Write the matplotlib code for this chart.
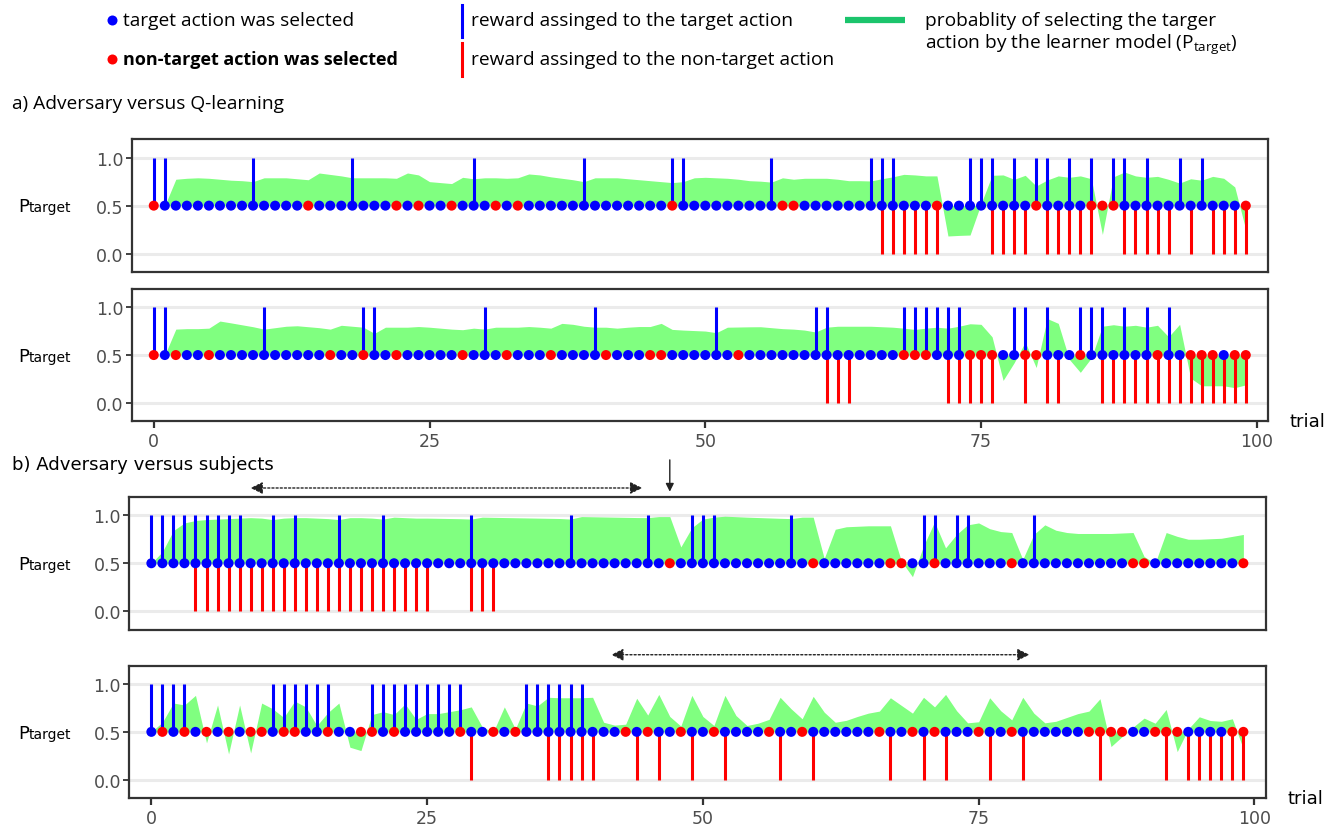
import matplotlib
matplotlib.use('Agg')
import matplotlib.pyplot as plt
import numpy as np
from matplotlib.transforms import blended_transform_factory

W, H = 1338, 828
trials = np.arange(100)

# ---- a) adversary vs Q-learning, run 1 ----
q1_nontarget_sel = [0, 14, 22, 24, 27, 31, 33, 47, 57, 58, 71, 80, 85, 86, 87, 99]
q1_rew_target = [0, 1, 9, 18, 29, 39, 47, 48, 56, 65, 66, 67, 74, 75, 76, 78, 80, 81,
                 83, 85, 87, 88, 90, 93, 95]
q1_rew_nontarget = [66, 67, 68, 69, 70, 71, 76, 77, 78, 79, 81, 82, 83, 84, 85, 88, 89,
                    90, 91, 92, 94, 96, 97, 98, 99]
q1_p = [0.5, 0.5, 0.775, 0.785, 0.79, 0.785, 0.775, 0.765, 0.76, 0.75,
        0.79, 0.79, 0.79, 0.78, 0.77, 0.84, 0.825, 0.81, 0.79, 0.79,
        0.79, 0.79, 0.785, 0.84, 0.82, 0.75, 0.74, 0.73, 0.795, 0.78,
        0.79, 0.79, 0.785, 0.79, 0.83, 0.82, 0.80, 0.785, 0.77, 0.75,
        0.79, 0.79, 0.79, 0.78, 0.77, 0.76, 0.75, 0.74, 0.75, 0.79,
        0.795, 0.79, 0.785, 0.775, 0.76, 0.755, 0.745, 0.79, 0.775, 0.785,
        0.785, 0.785, 0.775, 0.76, 0.76, 0.757, 0.78, 0.80, 0.826, 0.82,
        0.81, 0.81, 0.184, 0.19, 0.194, 0.52, 0.816, 0.82, 0.774, 0.816,
        0.705, 0.767, 0.81, 0.795, 0.81, 0.78, 0.20, 0.80, 0.85, 0.81,
        0.795, 0.805, 0.774, 0.735, 0.78, 0.765, 0.805, 0.785, 0.695, 0.25]

# ---- a) adversary vs Q-learning, run 2 ----
q2_nontarget_sel = [0, 2, 5, 16, 19, 22, 28, 32, 36, 41, 45, 46, 53, 68, 69, 70, 74, 75,
                    76, 79, 80, 84, 91, 94, 95, 96, 98, 99]
q2_rew_target = [0, 1, 10, 19, 20, 30, 40, 51, 60, 61, 68, 69, 70, 71, 72, 73, 78, 79,
                 81, 84, 85, 86, 88, 90, 92]
q2_rew_nontarget = [61, 62, 63, 72, 73, 74, 75, 76, 79, 81, 82, 86, 87, 88, 89, 90, 91,
                    92, 93, 94, 95, 96, 97, 98, 99]
q2_p = [0.5, 0.5, 0.77, 0.775, 0.775, 0.78, 0.854, 0.835, 0.815, 0.795,
        0.77, 0.785, 0.80, 0.805, 0.795, 0.785, 0.77, 0.81, 0.80, 0.79,
        0.726, 0.79, 0.79, 0.79, 0.797, 0.79, 0.78, 0.77, 0.764, 0.78,
        0.77, 0.79, 0.79, 0.79, 0.797, 0.79, 0.78, 0.83, 0.82, 0.80,
        0.79, 0.79, 0.78, 0.79, 0.797, 0.797, 0.83, 0.767, 0.76, 0.755,
        0.75, 0.733, 0.79, 0.792, 0.794, 0.795, 0.785, 0.775, 0.77, 0.76,
        0.74, 0.79, 0.80, 0.80, 0.80, 0.80, 0.795, 0.79, 0.78, 0.767,
        0.78, 0.79, 0.78, 0.80, 0.826, 0.82, 0.69, 0.236, 0.42, 0.635,
        0.37, 0.88, 0.83, 0.455, 0.32, 0.47, 0.80, 0.816, 0.80, 0.81,
        0.79, 0.81, 0.69, 0.82, 0.26, 0.18, 0.18, 0.18, 0.16, 0.19]

# ---- b) adversary vs subjects, subject 1 ----
s1_nontarget_sel = [47, 60, 67, 68, 71, 78, 89, 90, 99]
s1_rew_target = [0, 1, 2, 3, 4, 5, 6, 7, 8, 11, 13, 17, 21, 29, 38, 45, 49, 50, 51, 58,
                 70, 71, 73, 74, 80]
s1_rew_nontarget = [4, 5, 6, 7, 8, 9, 10, 11, 12, 13, 14, 15, 16, 17, 18, 19, 20, 21,
                    22, 23, 24, 25, 29, 30, 31]
s1_p = [0.5, 0.62, 0.84, 0.92, 0.945, 0.955, 0.96, 0.965, 0.97, 0.975,
        0.97, 0.955, 0.97, 0.975, 0.975, 0.97, 0.965, 0.955, 0.975, 0.975,
        0.97, 0.96, 0.98, 0.975, 0.97, 0.97, 0.968, 0.966, 0.964, 0.96,
        0.98, 0.978, 0.976, 0.974, 0.972, 0.97, 0.968, 0.966, 0.96, 0.986,
        0.984, 0.982, 0.98, 0.978, 0.976, 0.975, 0.986, 0.986, 0.67, 0.87,
        0.96, 0.98, 0.99, 0.985, 0.98, 0.976, 0.972, 0.968, 0.965, 0.98,
        0.98, 0.55, 0.854, 0.88, 0.885, 0.89, 0.89, 0.89, 0.52, 0.36,
        0.68, 0.93, 0.66, 0.80, 0.90, 0.92, 0.86, 0.83, 0.82, 0.54,
        0.80, 0.90, 0.844, 0.82, 0.81, 0.81, 0.81, 0.81, 0.815, 0.82,
        0.57, 0.5, 0.82, 0.78, 0.75, 0.75, 0.755, 0.76, 0.78, 0.80]

# ---- b) adversary vs subjects, subject 2 ----
s2_nontarget_sel = [1, 3, 5, 7, 9, 10, 12, 13, 16, 19, 20, 22, 28, 31, 33, 43, 45, 48,
                    51, 56, 59, 66, 69, 71, 75, 78, 85, 86, 87, 88, 91, 92, 93, 98, 99]
s2_rew_target = [0, 1, 2, 3, 11, 12, 13, 14, 15, 16, 20, 21, 22, 23, 24, 25, 26, 27, 28,
                 34, 35, 36, 37, 38, 39]
s2_rew_nontarget = [29, 36, 37, 38, 39, 40, 44, 46, 49, 52, 57, 60, 67, 70, 72, 76, 79,
                    86, 92, 94, 95, 96, 97, 98, 99]
s2_p = [0.5, 0.6, 0.80, 0.78, 0.88, 0.385, 0.78, 0.27, 0.78, 0.28,
        0.80, 0.74, 0.65, 0.82, 0.76, 0.565, 0.70, 0.80, 0.34, 0.305,
        0.68, 0.71, 0.68, 0.79, 0.63, 0.69, 0.69, 0.71, 0.73, 0.76,
        0.55, 0.5, 0.76, 0.53, 0.80, 0.77, 0.86, 0.855, 0.855, 0.855,
        0.86, 0.60, 0.57, 0.58, 0.85, 0.675, 0.89, 0.66, 0.56, 0.88,
        0.66, 0.566, 0.88, 0.67, 0.566, 0.59, 0.63, 0.86, 0.74, 0.636,
        0.87, 0.705, 0.60, 0.62, 0.66, 0.695, 0.716, 0.855, 0.775, 0.695,
        0.86, 0.76, 0.89, 0.72, 0.594, 0.605, 0.855, 0.72, 0.625, 0.86,
        0.695, 0.594, 0.61, 0.65, 0.69, 0.716, 0.845, 0.347, 0.45, 0.55,
        0.643, 0.59, 0.733, 0.294, 0.53, 0.657, 0.618, 0.61, 0.636, 0.32]

BLUE = '#0000FF'
RED = '#FF0000'
FILL = '#80FF80'
KEY_GREEN = '#1BC46C'
TXT_FONT = 'Open Sans'
LEG_SIZE = 13.8


def rect(left, top, width, height):
    return [left / W, 1 - (top + height) / H, width / W, height / H]


def draw_panel(ax, nontarget_sel, rew_t, rew_nt, p, show_x):
    ax.fill_between(trials, 0.5, p, color=FILL, lw=0, zorder=1)
    ax.vlines(rew_t, 0.5, 1.0, color=BLUE, lw=2.2, zorder=2)
    ax.vlines(rew_nt, 0.0, 0.5, color=RED, lw=2.2, zorder=2)
    colors = np.where(np.isin(trials, nontarget_sel), RED, BLUE)
    ax.scatter(trials, np.full(100, 0.5), s=52, c=colors, lw=0, zorder=3)

    ax.set_xlim(-2, 101.05)
    ax.set_ylim(-0.19, 1.19)
    ax.set_yticks([0, 0.5, 1.0])
    ax.set_yticklabels(['0.0', '0.5', '1.0'])
    ax.grid(axis='y', color='#EBEBEB', lw=2.2)
    ax.set_axisbelow(True)
    for sp in ax.spines.values():
        sp.set_color('#333333')
        sp.set_linewidth(1.6)
    ax.tick_params(axis='y', length=4, width=1.3, color='#333333',
                   labelcolor='#4D4D4D', labelsize=12.5, pad=2)
    if show_x:
        ax.set_xticks([0, 25, 50, 75, 100])
        ax.tick_params(axis='x', length=5, width=1.6, color='#333333',
                       labelcolor='#4D4D4D', labelsize=12.5, pad=3)
        ax.text(1.019, 0.0, 'trial', transform=ax.transAxes, ha='left',
                va='center', fontsize=13, family='DejaVu Sans')
    else:
        ax.set_xticks([])

    # y label "P target" with the small word on the same baseline
    tr = blended_transform_factory(fig.transFigure, ax.transData)
    ax.text(18 / W, 0.44, 'P', transform=tr, fontsize=13, ha='left',
            va='baseline', family='DejaVu Sans')
    ax.text(28.5 / W, 0.44, 'target', transform=tr, fontsize=10, ha='left',
            va='baseline', family='DejaVu Sans')


fig = plt.figure(figsize=(W / 100, H / 100), dpi=100)

# overlay in pixel units for the legend and headings
lg = fig.add_axes([0, 0, 1, 1])
lg.set_xlim(0, W)
lg.set_ylim(H, 0)
lg.axis('off')

ax1 = fig.add_axes(rect(131.7, 140.4, 1136.7, 132.5))
ax2 = fig.add_axes(rect(131.7, 289.8, 1136.7, 132.5))
ax3 = fig.add_axes(rect(129.3, 498.0, 1136.7, 132.5))
ax4 = fig.add_axes(rect(129.3, 666.6, 1136.7, 132.5))

draw_panel(ax1, q1_nontarget_sel, q1_rew_target, q1_rew_nontarget, q1_p, False)
draw_panel(ax2, q2_nontarget_sel, q2_rew_target, q2_rew_nontarget, q2_p, True)
draw_panel(ax3, s1_nontarget_sel, s1_rew_target, s1_rew_nontarget, s1_p, False)
draw_panel(ax4, s2_nontarget_sel, s2_rew_target, s2_rew_nontarget, s2_p, True)

# legend
lg.scatter([112], [21], s=52, c=BLUE, lw=0)
lg.text(123, 21, 'target action was selected', va='center', fontsize=LEG_SIZE,
        family=TXT_FONT)
lg.scatter([112], [60], s=52, c=RED, lw=0)
lg.text(123, 60, 'non-target action was selected', va='center', fontsize=13,
        family=TXT_FONT, weight='bold')
lg.plot([462, 462], [6, 38], color=BLUE, lw=2.2)
lg.text(471, 21, 'reward assinged to the target action', va='center',
        fontsize=LEG_SIZE, family=TXT_FONT)
lg.plot([462, 462], [44, 77], color=RED, lw=2.2)
lg.text(471, 60, 'reward assinged to the non-target action', va='center',
        fontsize=LEG_SIZE, family=TXT_FONT)
lg.plot([845, 905], [21, 21], color=KEY_GREEN, lw=4.5, solid_capstyle='butt')
lg.text(925, 21, 'probablity of selecting the targer', va='center',
        fontsize=LEG_SIZE, family=TXT_FONT)
lg.text(925, 45, r'action by the learner model (P$_{\mathregular{target}}$)',
        va='center', fontsize=LEG_SIZE, family=TXT_FONT)

lg.text(12, 104, 'a) Adversary versus Q-learning', va='center',
        fontsize=LEG_SIZE, family=TXT_FONT)
lg.text(12, 465, 'b) Adversary versus subjects', va='center', fontsize=13.1,
        family='DejaVu Sans')

# arrows marking trial ranges
arrow_kw = dict(arrowstyle='<|-|>', color='#222222', lw=1.0,
                linestyle=(0, (1.5, 1.5)), mutation_scale=18,
                shrinkA=0, shrinkB=0)
tr3 = blended_transform_factory(ax3.transData, ax3.transAxes)
ax3.annotate('', xy=(9.0, 1.068), xytext=(44.5, 1.068), xycoords=tr3,
             textcoords=tr3, arrowprops=arrow_kw, annotation_clip=False)
ax3.annotate('', xy=(47.0, 1.04), xytext=(47.0, 1.28), xycoords=tr3,
             textcoords=tr3, annotation_clip=False,
             arrowprops=dict(arrowstyle='-|>', color='#222222', lw=1.0,
                             mutation_scale=12, shrinkA=0, shrinkB=0))
tr4 = blended_transform_factory(ax4.transData, ax4.transAxes)
ax4.annotate('', xy=(41.7, 1.082), xytext=(79.6, 1.082), xycoords=tr4,
             textcoords=tr4, arrowprops=arrow_kw, annotation_clip=False)

fig.savefig('out.png', dpi=100)
